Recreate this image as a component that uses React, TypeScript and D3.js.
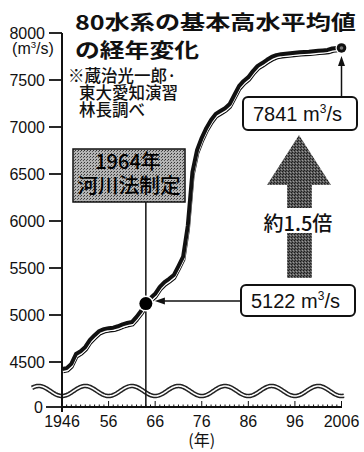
import React from "react";
import * as d3 from "d3";

const startYear = 1946;
const values = [
  4425, 4435, 4480, 4585, 4615, 4660, 4735, 4785, 4830, 4850,
  4860, 4865, 4880, 4900, 4915, 4925, 4980, 5045, 5122, 5180,
  5225, 5300, 5350, 5385, 5425, 5520, 5620, 5950, 6520, 6755,
  6885, 6990, 7075, 7140, 7170, 7200, 7245, 7340, 7435, 7490,
  7530, 7595, 7650, 7680, 7715, 7745, 7765, 7775, 7780, 7785,
  7790, 7795, 7798, 7800, 7805, 7810, 7815, 7820, 7835, 7840, 7841,
];
const yTicks = [4500, 5000, 5500, 6000, 6500, 7000, 7500, 8000];
const xTicks = [1946, 1956, 1966, 1976, 1986, 1996, 2006];
const xTickLabels = ["1946", "56", "66", "76", "86", "96", "2006"];
const eventYear = 1964;
const eventValue = 5122;
const endYear = 2006;
const endValue = 7841;

const titleLines = ["80水系の基本高水平均値", "の経年変化"];
const noteLines = ["※蔵治光一郎·", "東大愛知演習", "林長調べ"];
const eventLines = ["1964年", "河川法制定"];
const ratioLabel = "約1.5倍";

const NUM = "'Liberation Sans', Arial, sans-serif";
const JP = "'Noto Sans CJK JP', 'Noto Sans', sans-serif";

export default function App() {
  const x = d3.scaleLinear().domain([1946, 2006]).range([62, 341.5]);
  const y = d3.scaleLinear().domain([4500, 8000]).range([362, 33]);
  const yZero = 407;
  const data = values.map((v, i) => ({ year: startYear + i, v }));
  const line = d3
    .line<{ year: number; v: number }>()
    .x((d) => x(d.year))
    .y((d) => y(d.v))
    .curve(d3.curveLinear);
  const path = line(data) || "";

  // wavy break
  const waveY = 391;
  const waveAmp = 5;
  const period = x(1956) - x(1946);
  const wavePts: [number, number][] = d3
    .range(32, 344.5, 1)
    .map((px) => [px, waveY + waveAmp * Math.cos((2 * Math.PI * (px - x(1946))) / period)]);
  const wavePath = d3.line()(wavePts) || "";

  const minorYears = d3.range(1946, 2007);
  const ex = x(eventYear);
  const ey = y(eventValue);
  const endX = x(endYear);
  const endY = y(endValue);

  const supUnit = (fs: number) => (
    <>
      m
      <tspan fontSize={fs * 0.6} dy={-fs * 0.38}>
        3
      </tspan>
      <tspan dy={fs * 0.38}>/s</tspan>
    </>
  );

  return (
    <svg
      width={364}
      height={452}
      style={{ position: "absolute", left: 0, top: 0, background: "#fff" }}
    >
      <defs>
        <pattern id="ht1" width="3" height="3" patternUnits="userSpaceOnUse">
          <rect width="3" height="3" fill="#b4b4b4" />
          <rect x="0" y="0" width="1" height="1" fill="#333" />
          <rect x="2" y="1" width="1" height="1" fill="#555" />
        </pattern>
        <pattern id="ht2" width="3" height="3" patternUnits="userSpaceOnUse">
          <rect width="3" height="3" fill="#5a5a5a" />
          <rect x="0" y="0" width="1" height="1" fill="#1a1a1a" />
          <rect x="2" y="1" width="1" height="1" fill="#9a9a9a" />
          <rect x="1" y="2" width="1" height="1" fill="#222" />
        </pattern>
      </defs>

      {/* title */}
      <text
        x={75}
        y={30}
        fontFamily={JP}
        fontWeight={700}
        fontSize={20}
        textLength={281}
        lengthAdjust="spacingAndGlyphs"
        fill="#111"
      >
        {titleLines[0]}
      </text>
      <text
        x={75}
        y={58}
        fontFamily={JP}
        fontWeight={700}
        fontSize={20}
        textLength={124}
        lengthAdjust="spacingAndGlyphs"
        fill="#111"
      >
        {titleLines[1]}
      </text>

      {/* note */}
      {noteLines.map((t, i) => (
        <text
          key={t}
          x={i === 0 ? 68 : 79}
          y={82 + i * 17}
          fontFamily={JP}
          fontWeight={500}
          fontSize={16.5}
          fill="#111"
        >
          {t}
        </text>
      ))}

      {/* wave break */}
      <path d={wavePath} fill="none" stroke="#222" strokeWidth={4.6} />
      <path d={wavePath} fill="none" stroke="#fff" strokeWidth={1.6} />

      {/* y axis */}
      <line x1={62} x2={62} y1={y(8000)} y2={412} stroke="#111" strokeWidth={2} />
      {yTicks.map((t) => (
        <g key={t}>
          <line x1={49} x2={62} y1={y(t)} y2={y(t)} stroke="#111" strokeWidth={1.8} />
          <text
            x={45}
            y={y(t) + 6}
            textAnchor="end"
            fontFamily={NUM}
            fontSize={16}
            fill="#111"
          >
            {t}
          </text>
        </g>
      ))}
      <line x1={46} x2={62} y1={yZero} y2={yZero} stroke="#111" strokeWidth={1.8} />
      <text x={43} y={yZero + 6} textAnchor="end" fontFamily={NUM} fontSize={16} fill="#111">
        0
      </text>
      <text x={33} y={54} textAnchor="middle" fontFamily={NUM} fontSize={16} fill="#111">
        ({supUnit(16)})
      </text>

      {/* x axis */}
      <line x1={62} x2={342} y1={yZero} y2={yZero} stroke="#111" strokeWidth={1.8} />
      {minorYears.map((yr) => (
        <line
          key={yr}
          x1={x(yr)}
          x2={x(yr)}
          y1={yZero}
          y2={yZero - (yr % 10 === 6 ? 6 : 2.5)}
          stroke="#111"
          strokeWidth={1}
        />
      ))}
      {xTicks.map((t, i) => (
        <text
          key={t}
          x={x(t)}
          y={427}
          textAnchor="middle"
          fontFamily={NUM}
          fontSize={16}
          fill="#111"
        >
          {xTickLabels[i]}
        </text>
      ))}
      <text x={x(1976)} y={446} textAnchor="middle" fontFamily={JP} fontSize={16} fill="#111">
        (年)
      </text>

      {/* event line & box */}
      <line x1={ex} x2={ex} y1={202} y2={yZero} stroke="#111" strokeWidth={1.5} />
      <rect x={73} y={149} width={112} height={53} fill="url(#ht1)" stroke="#111" strokeWidth={1.5} />
      <text
        x={128}
        y={169}
        textAnchor="middle"
        fontFamily={JP}
        fontWeight={500}
        fontSize={20}
        fill="#000"
      >
        {eventLines[0]}
      </text>
      <text
        x={129}
        y={193}
        textAnchor="middle"
        fontFamily={JP}
        fontWeight={500}
        fontSize={20}
        textLength={103}
        lengthAdjust="spacingAndGlyphs"
        fill="#000"
      >
        {eventLines[1]}
      </text>

      {/* data line with shadow */}
      <path d={path} fill="none" stroke="#111" strokeWidth={1.3} transform="translate(1.5,3.6)" strokeLinejoin="round" />
      <path d={path} fill="none" stroke="#fff" strokeWidth={2.2} transform="translate(0.8,2)" strokeLinejoin="round" />
      <path d={path} fill="none" stroke="#111" strokeWidth={4} strokeLinejoin="round" />

      {/* event point */}
      <circle cx={ex} cy={ey} r={8} fill="#fff" />
      <circle cx={ex} cy={ey} r={6.5} fill="#000" />

      {/* end point */}
      <circle cx={endX} cy={endY} r={6} fill="#fff" />
      <circle cx={endX} cy={endY} r={4.8} fill="#111" />
      <circle cx={endX} cy={endY} r={1.8} fill="#777" />

      {/* 7841 label */}
      <line x1={endX} x2={endX} y1={97} y2={endY + 16} stroke="#111" strokeWidth={1.5} />
      <path
        d={`M${endX},${endY + 8} L${endX - 3.5},${endY + 18} L${endX + 3.5},${endY + 18} Z`}
        fill="#111"
      />
      <rect x={243} y={97} width={114} height={33} rx={5} fill="#fff" stroke="#111" strokeWidth={2} />
      <text x={253} y={121} fontFamily={NUM} fontSize={20} fill="#111">
        {String(endValue)} {supUnit(20)}
      </text>

      {/* 5122 label */}
      <line x1={ex + 16} x2={241} y1={301} y2={301} stroke="#111" strokeWidth={1.5} />
      <path d={`M${ex + 9},301 L${ex + 19},297.5 L${ex + 19},304.5 Z`} fill="#111" />
      <rect x={241} y={285} width={114} height={31} rx={5} fill="#fff" stroke="#111" strokeWidth={2} />
      <text x={251} y={308} fontFamily={NUM} fontSize={20} fill="#111">
        {String(eventValue)} {supUnit(20)}
      </text>

      {/* big arrow */}
      <path
        d="M299,135 L331,185 L312,185 L312,278 L287,278 L287,185 L267,185 Z"
        fill="url(#ht2)"
      />
      <rect x={262} y={208} width={74} height={25} fill="#fff" />
      <text
        x={298}
        y={231}
        textAnchor="middle"
        fontFamily={JP}
        fontWeight={500}
        fontSize={20}
        fill="#111"
      >
        {ratioLabel}
      </text>
    </svg>
  );
}
